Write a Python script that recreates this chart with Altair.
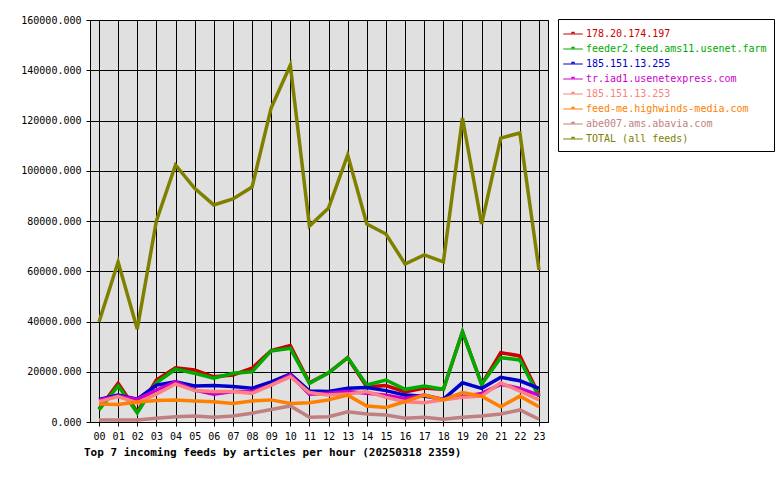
import altair as alt
import pandas as pd

hours = list(range(24))
series_names = [
    "178.20.174.197",
    "feeder2.feed.ams11.usenet.farm",
    "185.151.13.255",
    "tr.iad1.usenetexpress.com",
    "185.151.13.253",
    "feed-me.highwinds-media.com",
    "abe007.ams.abavia.com",
    "TOTAL (all feeds)",
]
series_colors = ["#cc0000", "#00aa00", "#0000cc", "#cc00cc", "#ff8080", "#ff8000", "#c08080", "#808000"]

red = [5200, 15400, 4000, 16700, 21600, 20700, 18000, 18700, 21400, 28400, 30400, 15600,
       19600, 25600, 14000, 14500, 12000, 13500, 13000, 35900, 15000, 27600, 26300, 10700]
green = [4800, 14400, 3600, 15600, 21000, 19400, 17400, 19400, 20000, 28300, 29300, 15400,
         19600, 25600, 14700, 16700, 13000, 14300, 13000, 35900, 15000, 25600, 24700, 10100]
blue = [9000, 10700, 9100, 14700, 16000, 14300, 14500, 14100, 13400, 16000, 19100, 12300,
        12100, 13400, 13700, 12500, 10700, 10300, 9000, 15600, 13400, 17800, 16400, 13400]
magenta = [8800, 10300, 9000, 12700, 16000, 12700, 11100, 12100, 12100, 14700, 18700, 11100,
           11400, 12100, 11400, 10700, 9400, 10700, 9000, 10100, 11400, 15000, 13400, 10700]
pink = [8100, 10100, 7600, 11100, 15100, 12500, 12100, 12100, 11400, 14700, 18000, 11700,
        10700, 11100, 12100, 9800, 8100, 7700, 8800, 9800, 10300, 15600, 12300, 8800]
orange = [7200, 7000, 8000, 8600, 8800, 8400, 8100, 7400, 8400, 8800, 7400, 7700,
          8800, 10700, 6400, 5800, 8100, 10700, 8800, 11700, 10300, 6100, 10300, 6100]
rose = [800, 800, 800, 1500, 2100, 2400, 1900, 2400, 3500, 5000, 6400, 1900,
        2100, 4100, 3200, 2800, 1500, 1900, 1100, 1900, 2400, 3200, 4800, 1100]
total = [39800, 63700, 37000, 80000, 102300, 93000, 86400, 88800, 93500, 125000, 142000, 78000,
         85200, 106300, 78800, 74800, 62900, 66500, 63700, 121000, 78800, 113000, 115000, 60500]

all_values = [red, green, blue, magenta, pink, orange, rose, total]

rows = []
for idx, (name, vals) in enumerate(zip(series_names, all_values)):
    for h, v in zip(hours, vals):
        rows.append({"hour": h, "articles": v, "feed": name, "k": idx})
df = pd.DataFrame(rows)

FONT = "DejaVu Sans Mono"

chart = alt.Chart(df).mark_line(strokeWidth=3.5, strokeJoin="miter").encode(
    x=alt.X("hour:Q",
            scale=alt.Scale(domain=[-0.47, 23.47], nice=False, zero=False),
            axis=alt.Axis(values=hours, title=None,
                          labelExpr="datum.value < 10 ? '0' + datum.value : '' + datum.value",
                          tickSize=4, labelPadding=5)),
    y=alt.Y("articles:Q",
            scale=alt.Scale(domain=[0, 160000], nice=False),
            axis=alt.Axis(values=list(range(0, 160001, 20000)), format=".3f", title=None,
                          tickSize=4, labelPadding=5)),
    color=alt.Color("feed:N",
                    scale=alt.Scale(domain=series_names, range=series_colors),
                    legend=alt.Legend(
                        title=None, orient="none", legendX=468, legendY=-1,
                        symbolType="M-1.4,0L1.4,0M-0.15,0L-0.15,-0.22L0.15,-0.22L0.15,0",
                        symbolSize=196, symbolStrokeWidth=1.2,
                        labelFont=FONT, labelFontSize=10, labelLimit=400,
                        labelOffset=5, rowPadding=2, padding=7,
                        strokeColor="black", fillColor="white",
                        labelColor={"expr": "scale('color', datum.value)"},
                    )),
    order=alt.Order("hour:Q"),
    detail="k:N",
).properties(
    width=458,
    height=402,
    autosize=alt.AutoSizeParams(type="none"),
    padding={"left": 90, "top": 20, "right": 232, "bottom": 58},
    background="white",
    title=alt.TitleParams(
        "Top 7 incoming feeds by articles per hour (20250318 2359)",
        orient="bottom", anchor="start", frame="group",
        font=FONT, fontSize=11, fontWeight="bold", color="black",
        offset=6, dx=-6,
    ),
).configure_view(
    fill="#e0e0e0", stroke="black", strokeWidth=1
).configure_axis(
    grid=True, gridColor="black", gridOpacity=1, gridWidth=1,
    domainColor="black", tickColor="black", labelColor="black",
    labelFont=FONT, labelFontSize=10,
)

chart.save("out.html", embed_options={"renderer": "svg", "actions": False})
